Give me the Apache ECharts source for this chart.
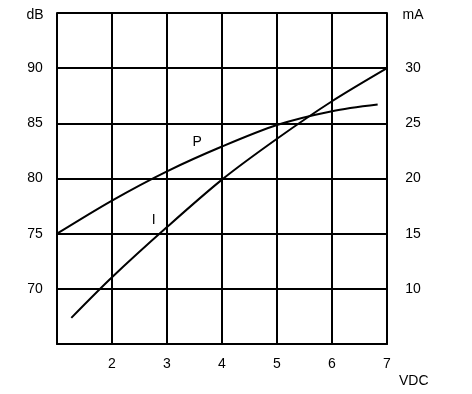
<!DOCTYPE html>
<html>
<head>
<meta charset="utf-8">
<script src="https://cdn.jsdelivr.net/npm/echarts@6/dist/echarts.min.js"></script>
<style>html,body{margin:0;padding:0;background:#fff;}#c{width:472px;height:394px;}</style>
</head>
<body>
<div id="c"></div>
<script>
// Axis ranges / ticks
const xTicks = [1, 2, 3, 4, 5, 6, 7];
const dBTicks = [65, 70, 75, 80, 85, 90, 95];
const mATicks = [5, 10, 15, 20, 25, 30, 35];
// Curve P (dB, left axis)
const pX = [1, 2, 3, 4, 5, 6, 6.83];
const pY = [75, 78.0, 80.65, 82.9, 84.85, 86.1, 86.7];
// Curve I (mA, right axis)
const iX = [1.26, 2, 3, 4, 5, 6, 7];
const iY = [7.37, 11.05, 15.6, 19.9, 23.6, 27.0, 30];
// Curve labels
const pLabel = {name: 'P', x: 3.55, y: 83.28};
const iLabel = {name: 'I', x: 2.76, y: 16.27};

const font = 'Liberation Sans, Arial, sans-serif';
const chart = echarts.init(document.getElementById('c'));
const zip = (a, b) => a.map((v, k) => [v, b[k]]);
const lineStyleAxis = {color: '#000', width: 2};
const topRich = {t: {padding: [5, 0, 0, 0], color: '#000', fontFamily: font, fontSize: 14}};

chart.setOption({
  animation: false,
  backgroundColor: '#fff',
  grid: {left: 57, right: 85, top: 13, bottom: 50, containLabel: false},
  title: {
    text: 'VDC', left: 399, top: 374, padding: 0,
    textStyle: {fontFamily: font, fontSize: 14, fontWeight: 'normal', color: '#000'}
  },
  xAxis: {
    type: 'value', min: xTicks[0], max: xTicks[xTicks.length - 1], interval: 1,
    axisLine: {show: true, lineStyle: lineStyleAxis},
    axisTick: {show: false},
    splitLine: {show: true, lineStyle: lineStyleAxis},
    axisLabel: {
      color: '#000', fontFamily: font, fontSize: 14, margin: 13,
      formatter: v => (v === xTicks[0] ? '' : String(v))
    }
  },
  yAxis: [{
    type: 'value', position: 'left',
    min: dBTicks[0], max: dBTicks[dBTicks.length - 1], interval: 5,
    axisLine: {show: true, lineStyle: lineStyleAxis},
    axisTick: {show: false},
    splitLine: {show: true, lineStyle: lineStyleAxis},
    axisLabel: {
      color: '#000', fontFamily: font, fontSize: 14, margin: 22, align: 'center', rich: topRich,
      formatter: v => (v === dBTicks[dBTicks.length - 1] ? '{t|dB}' : (v === dBTicks[0] ? '' : String(v)))
    }
  }, {
    type: 'value', position: 'right',
    min: mATicks[0], max: mATicks[mATicks.length - 1], interval: 5,
    axisLine: {show: true, lineStyle: lineStyleAxis},
    axisTick: {show: false},
    splitLine: {show: false},
    axisLabel: {
      color: '#000', fontFamily: font, fontSize: 14, margin: 26, align: 'center', rich: topRich,
      formatter: v => (v === mATicks[mATicks.length - 1] ? '{t|mA}' : (v === mATicks[0] ? '' : String(v)))
    }
  }],
  series: [{
    name: 'P', type: 'line', yAxisIndex: 0, data: zip(pX, pY), smooth: 0.3,
    showSymbol: false, lineStyle: {color: '#000', width: 2},
    markPoint: {
      symbol: 'circle', symbolSize: 1, itemStyle: {color: 'rgba(0,0,0,0)'},
      label: {show: true, position: 'inside', formatter: '{b}', color: '#000', fontFamily: font, fontSize: 14},
      data: [{name: pLabel.name, coord: [pLabel.x, pLabel.y]}]
    }
  }, {
    name: 'I', type: 'line', yAxisIndex: 1, data: zip(iX, iY), smooth: 0.3,
    showSymbol: false, lineStyle: {color: '#000', width: 2},
    markPoint: {
      symbol: 'circle', symbolSize: 1, itemStyle: {color: 'rgba(0,0,0,0)'},
      label: {show: true, position: 'inside', formatter: '{b}', color: '#000', fontFamily: font, fontSize: 14},
      data: [{name: iLabel.name, coord: [iLabel.x, iLabel.y]}]
    }
  }]
});
</script>
</body>
</html>
